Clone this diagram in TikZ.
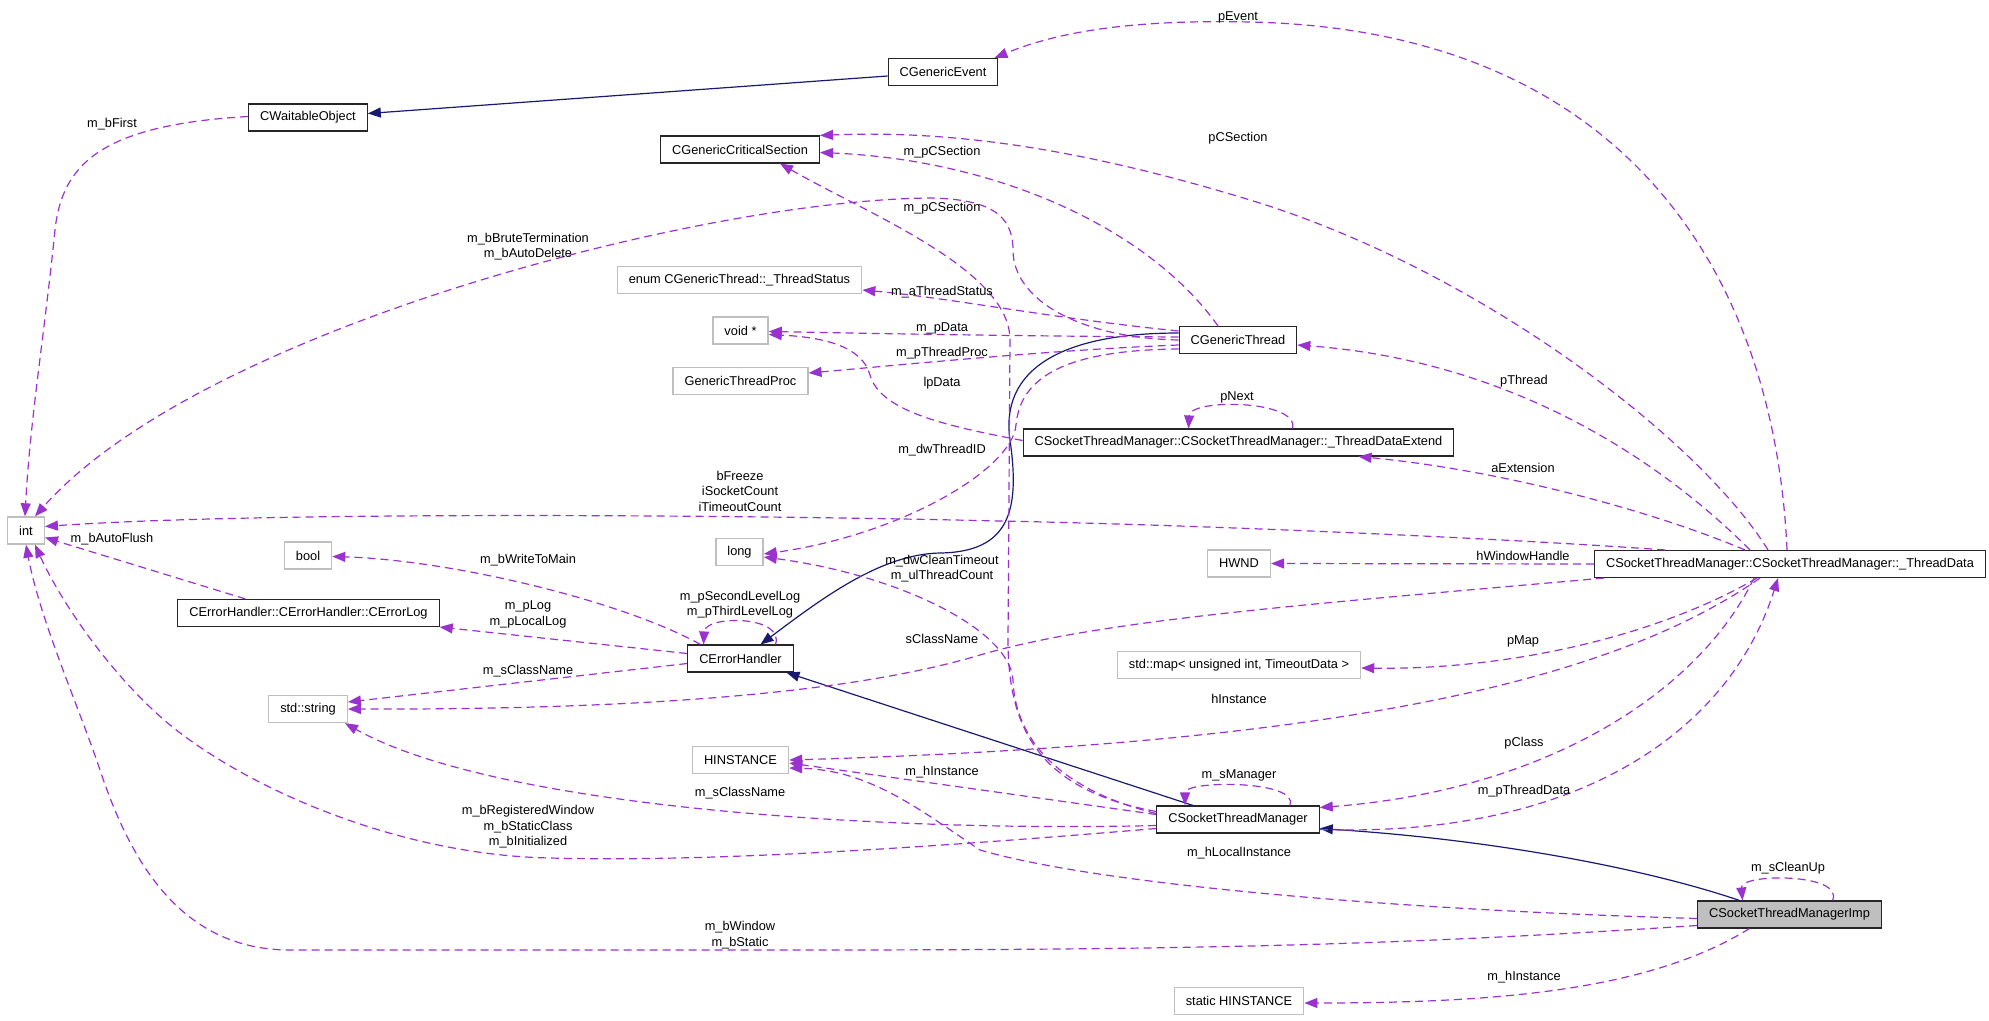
\documentclass[tikz,border=0pt]{standalone}
\usepackage{fontspec}
\setmainfont{Liberation Sans}
\usetikzlibrary{arrows.meta}
\definecolor{usepurple}{HTML}{9A32CD}
\definecolor{inhblue}{HTML}{191970}
\definecolor{boxgray}{HTML}{BFBFBF}
\newcommand{\dfont}{\fontsize{12.8}{15.5}\selectfont}

\begin{document}
\begin{tikzpicture}[x=1pt,y=-1pt,
    cls/.style={draw=black!85,line width=1.1pt,fill=white,minimum height=27pt,inner xsep=11.5pt,inner ysep=0pt,font=\dfont},
    ext/.style={cls,draw=boxgray,line width=1.4pt},
    cur/.style={cls,fill=boxgray},
    inh/.style={draw=inhblue,line width=1.2pt,-{Triangle[length=13pt,width=10pt]}},
    use/.style={draw=usepurple,line width=1.2pt,dash pattern=on 8pt off 5pt,-{Triangle[length=13pt,width=10pt]}},
    lbl/.style={font=\dfont,align=center,inner sep=0pt}]
\useasboundingbox (0,0) rectangle (1989,1020);

\node[cls] (waitable) at (308,117.5) {CWaitableObject};
\node[cls] (genevent) at (943,72) {CGenericEvent};
\node[cls] (critsec) at (740,149.5) {CGenericCriticalSection};
\node[ext] (tstatus) at (739.5,280) {enum CGenericThread::\_ThreadStatus};
\node[ext] (voidp) at (740.5,330.5) {void *};
\node[cls] (genthread) at (1238,340) {CGenericThread};
\node[ext] (tproc) at (740.5,381) {GenericThreadProc};
\node[cls] (tdext) at (1238.5,442.5) {CSocketThreadManager::CSocketThreadManager::\_ThreadDataExtend};
\node[ext] (tint) at (26,530.5) {int};
\node[ext] (tbool) at (308,555.5) {bool};
\node[cls] (errlog) at (308.5,613) {CErrorHandler::CErrorHandler::CErrorLog};
\node[ext] (tlong) at (739.5,552) {long};
\node[ext] (hwnd) at (1239,563.5) {HWND};
\node[cls] (tdata) at (1790,564) {CSocketThreadManager::CSocketThreadManager::\_ThreadData};
\node[cls] (errh) at (740.5,658.5) {CErrorHandler};
\node[ext] (tmap) at (1239,665) {std::map< unsigned int, TimeoutData >};
\node[ext] (tstring) at (308,709) {std::string};
\node[ext] (hinst) at (740.5,760) {HINSTANCE};
\node[cls] (stm) at (1238,819.5) {CSocketThreadManager};
\node[cur] (stmimp) at (1789.5,914.5) {CSocketThreadManagerImp};
\node[ext] (shinst) at (1239,1001) {static HINSTANCE};

\draw[inh] ([yshift=-4pt]genevent.west) -- ([yshift=4pt]waitable.east);
\draw[inh] ([yshift=7pt]genthread.west) .. controls (1060,333) and (1000,370) .. (1010,440) .. controls (1020,510) and (1010,552) .. (940,553) .. controls (880,554) and (820,600) .. ([xshift=20pt]errh.north);
\draw[inh] ([xshift=-45pt]stm.north) -- ([xshift=46pt]errh.south);
\draw[inh] ([xshift=-50pt]stmimp.north) .. controls (1650,870) and (1500,840) .. ([yshift=-9pt]stm.east);

\draw[use] ([yshift=1pt]waitable.west) .. controls (100,125) and (62,165) .. (55,230) .. controls (45,330) and (30,420) .. ([xshift=-1pt]tint.north);
\draw[use] (genthread.west) .. controls (1080,338) and (1013,300) .. (1013,250) .. controls (1013,215) and (990,199) .. (930,198) .. controls (700,200) and (200,330) .. ([xshift=9pt]tint.north);
\draw[use] ([xshift=-20pt]genthread.north) .. controls (1150,230) and (1000,160) .. ([yshift=-3pt]critsec.east);
\draw[use] ([yshift=9pt]genthread.west) .. controls (1050,318) and (950,298) .. ([yshift=-10pt]tstatus.east);
\draw[use] ([yshift=3pt]genthread.west) .. controls (1000,336) and (850,333) .. ([yshift=-1pt]voidp.east);
\draw[use] ([yshift=-5pt]genthread.west) .. controls (1050,350) and (900,365) .. ([yshift=8pt]tproc.east);
\draw[use] ([yshift=-9pt]genthread.west) .. controls (1060,350) and (1020,380) .. (1016,425) .. controls (1012,470) and (900,535) .. ([yshift=-2pt]tlong.east);
\draw[use] ([yshift=2pt]tdext.west) .. controls (940,425) and (880,410) .. (870,375) .. controls (862,345) and (820,337) .. ([yshift=-4pt]voidp.east);
\draw[use] ([xshift=54pt]tdext.north) .. controls (1300,400) and (1190,398) .. ([xshift=-50pt]tdext.north);

\draw[use] ([xshift=-125pt]tdata.north) .. controls (1500,538) and (1200,525) .. (1000,521) .. controls (700,514) and (250,512) .. ([yshift=4pt]tint.east);
\draw[use] (tdata.west) -- (hwnd.east);
\draw[use] ([xshift=-45pt]tdata.north) .. controls (1650,510) and (1500,470) .. ([xshift=120pt]tdext.south);
\draw[use] ([xshift=-40pt]tdata.north) .. controls (1650,450) and (1500,360) .. ([yshift=-5pt]genthread.east);
\draw[use] ([xshift=-22pt]tdata.north) .. controls (1700,440) and (1480,270) .. (1250,200) .. controls (1080,148) and (950,130) .. (critsec.north east);
\draw[use] ([xshift=-3pt]tdata.north) .. controls (1775,280) and (1630,30) .. (1250,22) .. controls (1120,19) and (1050,35) .. ([xshift=-4pt]genevent.north east);
\draw[use] ([xshift=-33pt]tdata.south) .. controls (1650,640) and (1500,670) .. ([yshift=-3pt]tmap.east);
\draw[use] ([xshift=-30pt]tdata.south) .. controls (1600,690) and (1300,745) .. (hinst.east);
\draw[use] ([xshift=-36pt]tdata.south) .. controls (1700,690) and (1550,790) .. ([yshift=12pt]stm.east);
\draw[use] ([xshift=10pt]tdata.south west) .. controls (1300,605) and (1100,620) .. (980,655) .. controls (880,685) and (700,710) .. (tstring.east);

\draw[use] ([xshift=-40pt]errh.north) .. controls (620,600) and (450,560) .. ([yshift=-1pt]tbool.east);
\draw[use] ([xshift=35pt]errh.north) .. controls (785,615) and (705,615) .. ([xshift=-37pt]errh.north);
\draw[use] ([yshift=5pt]errh.west) -- (errlog.south east);
\draw[use] ([yshift=-5pt]errh.west) -- ([yshift=7pt]tstring.east);
\draw[use] ([xshift=-63pt]errlog.north) -- ([yshift=-7pt]tint.east);

\draw[use] ([yshift=8pt]stm.west) .. controls (1040,790) and (1008,730) .. (1008,640) -- (1010,340) .. controls (1010,270) and (870,215) .. ([xshift=40pt]critsec.south);
\draw[use] ([yshift=6pt]stm.west) .. controls (1060,790) and (1015,740) .. (1013,680) .. controls (1010,630) and (900,575) .. ([yshift=-5pt]tlong.east);
\draw[use] ([yshift=5pt]stm.west) -- ([yshift=-3pt]hinst.east);
\draw[use] ([yshift=-6pt]stm.west) .. controls (900,832) and (500,810) .. ([xshift=-3pt]tstring.south east);
\draw[use] ([yshift=-9pt]stm.west) .. controls (900,850) and (700,862) .. (550,858) .. controls (400,855) and (250,790) .. (170,725) .. controls (110,675) and (60,600) .. ([xshift=9pt]tint.south);
\draw[use] ([xshift=52pt]stm.north) .. controls (1300,780) and (1185,780) .. ([xshift=-53pt]stm.north);
\draw[use] ([yshift=-10pt]stm.east) .. controls (1580,838) and (1730,730) .. ([xshift=-12pt]tdata.south);

\draw[use] ([yshift=-4pt]stmimp.west) .. controls (1400,910) and (1100,885) .. (980,850) .. controls (920,810) and (870,770) .. ([yshift=-8pt]hinst.east);
\draw[use] ([yshift=-11pt]stmimp.west) .. controls (1400,945) and (1200,950) .. (800,950) -- (290,950) .. controls (180,950) and (130,860) .. (100,770) .. controls (80,710) and (40,620) .. (tint.south);
\draw[use] ([xshift=43pt]stmimp.north) .. controls (1845,873) and (1740,873) .. ([xshift=-47pt]stmimp.north);
\draw[use] ([xshift=-40pt]stmimp.south) .. controls (1650,990) and (1500,1003) .. ([yshift=-2pt]shinst.east);

\node[lbl] (lbfirst) at (112,124) {m\_bFirst};
\node[lbl] (lbrute) at (528,246.5) {m\_bBruteTermination\\m\_bAutoDelete};
\node[lbl] (levent) at (1238,17) {pEvent};
\node[lbl] (lcsec) at (1238,138) {pCSection};
\node[lbl] (lcsecA) at (942,152) {m\_pCSection};
\node[lbl] (lcsecB) at (942,208) {m\_pCSection};
\node[lbl] (lstatus) at (942,292) {m\_aThreadStatus};
\node[lbl] (lpdata) at (942,328) {m\_pData};
\node[lbl] (lproc) at (942,353) {m\_pThreadProc};
\node[lbl] (llpdata) at (942,383) {lpData};
\node[lbl] (lnext) at (1237,397) {pNext};
\node[lbl] (lthid) at (942,450) {m\_dwThreadID};
\node[lbl] (lfreeze) at (740,491) {bFreeze\\iSocketCount\\iTimeoutCount};
\node[lbl] (lclean) at (942,568.5) {m\_dwCleanTimeout\\m\_ulThreadCount};
\node[lbl] (llevel) at (740,604.5) {m\_pSecondLevelLog\\m\_pThirdLevelLog};
\node[lbl] (lsclass) at (942,639) {sClassName};
\node[lbl] (lflush) at (112,539) {m\_bAutoFlush};
\node[lbl] (lwrite) at (528,560) {m\_bWriteToMain};
\node[lbl] (llog) at (528,614.5) {m\_pLog\\m\_pLocalLog};
\node[lbl] (lclassA) at (528,671) {m\_sClassName};
\node[lbl] (lthread) at (1524,381) {pThread};
\node[lbl] (lext) at (1523,468) {aExtension};
\node[lbl] (lwnd) at (1523,556) {hWindowHandle};
\node[lbl] (lmap) at (1523,641) {pMap};
\node[lbl] (linst) at (1239,699) {hInstance};
\node[lbl] (lhinstA) at (942,772) {m\_hInstance};
\node[lbl] (lclassB) at (740,793) {m\_sClassName};
\node[lbl] (lmanager) at (1239,775) {m\_sManager};
\node[lbl] (lreg) at (528,827) {m\_bRegisteredWindow\\m\_bStaticClass\\m\_bInitialized};
\node[lbl] (llocal) at (1239,853) {m\_hLocalInstance};
\node[lbl] (lwindow) at (740,935) {m\_bWindow\\m\_bStatic};
\node[lbl] (lclass) at (1524,743) {pClass};
\node[lbl] (ltdata) at (1524,791) {m\_pThreadData};
\node[lbl] (lcleanup) at (1788,868) {m\_sCleanUp};
\node[lbl] (lhinstB) at (1524,977) {m\_hInstance};
\end{tikzpicture}
\end{document}
